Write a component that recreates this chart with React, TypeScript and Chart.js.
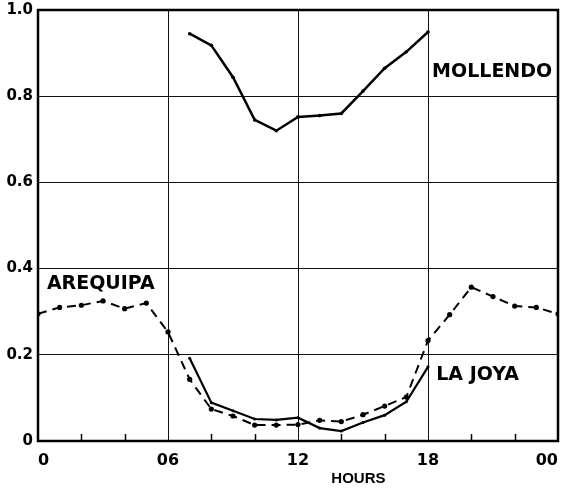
import React, { useEffect, useRef } from "react";
import { Chart, registerables } from "chart.js";

Chart.register(...registerables);

const MOLLENDO_HOURS = [7, 8, 9, 10, 11, 12, 13, 14, 15, 16, 17, 18];
const MOLLENDO_VALUES = [0.945, 0.918, 0.844, 0.745, 0.72, 0.752, 0.755, 0.76, 0.812, 0.865, 0.903, 0.949];

const AREQUIPA_HOURS = [0, 1, 2, 3, 4, 5, 6, 7, 8, 9, 10, 11, 12, 13, 14, 15, 16, 17, 18, 19, 20, 21, 22, 23, 24];
const AREQUIPA_VALUES = [0.295, 0.31, 0.315, 0.325, 0.307, 0.32, 0.253, 0.143, 0.074, 0.058, 0.037, 0.037, 0.038, 0.048, 0.045, 0.061, 0.081, 0.102, 0.233, 0.293, 0.357, 0.335, 0.313, 0.31, 0.295];

const LAJOYA_HOURS = [7, 8, 9, 10, 11, 12, 13, 14, 15, 16, 17, 18];
const LAJOYA_VALUES = [0.192, 0.089, 0.07, 0.051, 0.049, 0.054, 0.03, 0.023, 0.043, 0.06, 0.091, 0.172];

const X_TICK_LABELS: Record<number, string> = { 0: "0", 6: "06", 12: "12", 18: "18", 24: "00" };
const MINOR_TICKS = [2, 4, 8, 10, 14, 16, 20, 22];

const SERIES_LABELS = [
  { text: "MOLLENDO", x: 18.19, y: 0.857 },
  { text: "AREQUIPA", x: 0.41, y: 0.365 },
  { text: "LA JOYA", x: 18.38, y: 0.154 },
];
const X_TITLE = { text: "HOURS", x: 14.79 };

const toPoints = (xs: number[], ys: number[]) => xs.map((x, i) => ({ x, y: ys[i] }));

const overlay = {
  id: "overlay",
  afterDatasetsDraw(chart: any) {
    const { ctx, chartArea, scales } = chart;
    const xs = scales.x;
    const ys = scales.y;
    ctx.save();
    ctx.strokeStyle = "#000";
    ctx.lineWidth = 2.5;
    ctx.strokeRect(chartArea.left, chartArea.top, chartArea.right - chartArea.left, chartArea.bottom - chartArea.top);
    ctx.lineWidth = 1.5;
    ctx.beginPath();
    for (const h of MINOR_TICKS) {
      const px = Math.round(xs.getPixelForValue(h)) + 0.5;
      ctx.moveTo(px, chartArea.bottom);
      ctx.lineTo(px, chartArea.bottom - 7);
    }
    ctx.stroke();
    ctx.fillStyle = "#000";
    ctx.font = "bold 19px 'DejaVu Sans'";
    ctx.textAlign = "left";
    ctx.textBaseline = "middle";
    for (const l of SERIES_LABELS) {
      ctx.fillText(l.text, xs.getPixelForValue(l.x), ys.getPixelForValue(l.y));
    }
    ctx.font = "bold 15px 'Liberation Sans'";
    ctx.textAlign = "center";
    ctx.fillText(X_TITLE.text, xs.getPixelForValue(X_TITLE.x), ys.getPixelForValue(0) + 38);
    ctx.restore();
  },
};

export default function App() {
  const ref = useRef<HTMLCanvasElement | null>(null);
  useEffect(() => {
    if (!ref.current) return;
    const chart = new Chart(ref.current, {
      type: "line",
      data: {
        datasets: [
          {
            label: "Mollendo",
            data: toPoints(MOLLENDO_HOURS, MOLLENDO_VALUES),
            borderColor: "#000",
            backgroundColor: "#000",
            borderWidth: 2.5,
            pointRadius: 1.8,
            pointBorderWidth: 0,
            tension: 0,
          },
          {
            label: "Arequipa",
            data: toPoints(AREQUIPA_HOURS, AREQUIPA_VALUES),
            borderColor: "#000",
            backgroundColor: "#000",
            borderWidth: 2,
            borderDash: [9, 6],
            pointRadius: 2.6,
            pointBorderWidth: 0,
            tension: 0,
          },
          {
            label: "La Joya",
            data: toPoints(LAJOYA_HOURS, LAJOYA_VALUES),
            borderColor: "#000",
            backgroundColor: "#000",
            borderWidth: 2.2,
            pointRadius: 1.5,
            pointBorderWidth: 0,
            tension: 0,
          },
        ],
      },
      options: {
        responsive: false,
        animation: false,
        layout: { padding: { left: 0, right: 3, top: 10, bottom: 0 } },
        plugins: { legend: { display: false }, tooltip: { enabled: false } },
        scales: {
          x: {
            type: "linear",
            min: 0,
            max: 24,
            afterFit: (s: any) => {
              s.height = 47;
              s.paddingLeft = 0;
              s.paddingRight = 0;
            },
            border: { display: false },
            grid: { color: "#111", lineWidth: 1, drawTicks: false },
            ticks: {
              stepSize: 6,
              align: "inner",
              padding: 10,
              color: "#000",
              font: { family: "'DejaVu Sans'", weight: "bold", size: 16 },
              callback: (v: any) => X_TICK_LABELS[v as number] ?? "",
              maxRotation: 0,
            },
          },
          y: {
            min: 0,
            max: 1.0,
            afterFit: (s: any) => {
              s.width = 38;
              s.paddingTop = 0;
              s.paddingBottom = 0;
            },
            border: { display: false },
            grid: { color: "#111", lineWidth: 1, drawTicks: false },
            ticks: {
              stepSize: 0.2,
              padding: 5,
              color: "#000",
              font: { family: "'DejaVu Sans'", weight: "bold", size: 15 },
              callback: (v: any) => (Math.abs(v) < 1e-9 ? "0" : (v as number).toFixed(1)),
            },
          },
        },
      },
      plugins: [overlay],
    });
    return () => chart.destroy();
  }, []);
  return (
    <div style={{ position: "absolute", left: 0, top: 0, width: 562, height: 488, background: "#fff" }}>
      <canvas ref={ref} width={562} height={488} style={{ display: "block" }} />
    </div>
  );
}
